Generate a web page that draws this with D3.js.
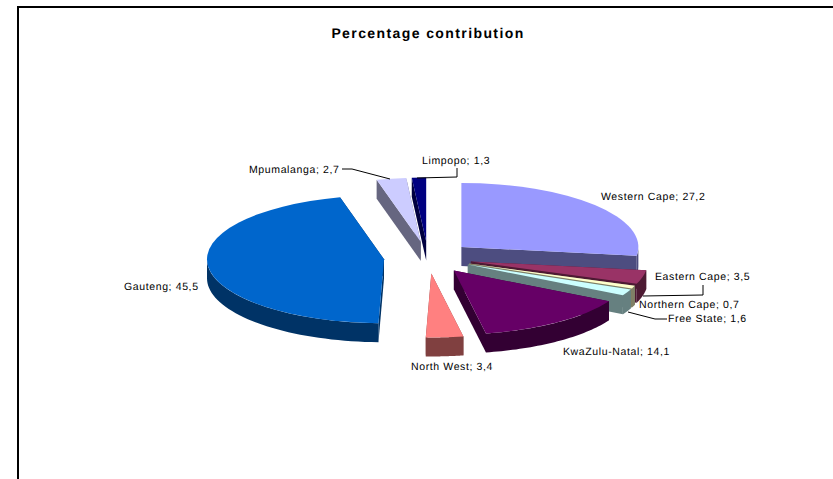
<!DOCTYPE html>
<html><head><meta charset="utf-8">
<script src="https://d3js.org/d3.v7.min.js"></script>
<style>html,body{margin:0;padding:0;background:#fff;overflow:hidden}svg{display:block}text{text-rendering:geometricPrecision}</style>
</head><body><svg width="833" height="479"></svg>
<script>
const categories = ["Western Cape","Eastern Cape","Northern Cape","Free State","KwaZulu-Natal","North West","Gauteng","Mpumalanga","Limpopo"];
const values = [27.2,3.5,0.7,1.6,14.1,3.4,45.5,2.7,1.3];
const valueLabels = ["27,2","3,5","0,7","1,6","14,1","3,4","45,5","2,7","1,3"];
const topColors = ["#9999FF","#993366","#FFFFCC","#CCFFFF","#660066","#FF8080","#0066CC","#CCCCFF","#000080"];
const sideColors = ["#4D4D80","#4D1A33","#808066","#668080","#330033","#804040","#003366","#666680","#000040"];
const drawOrder = [8,7,6,0,1,2,3,4,5];
const labelAt = [[601,196],[655,276],[639,304],[668,318],[563,351],[411,366],[124,286],[249,169],[422,160]];
const leaders = [
  [[703,285],[703,295],[643,296]],
  [[667,319],[655,319],[628,312]],
  [[342,169],[352,169],[390,179]],
  [[457,168],[457,177],[417,178]]
];

const cx=428, cy=257.5, rx=177, ry=64, depth=19, explode=0.25;
const svg=d3.select("svg");
svg.append("path").attr("d","M18,479V7H833").attr("fill","none").attr("stroke","#000").attr("stroke-width",2);
svg.append("text").attr("x",428).attr("y",38).attr("text-anchor","middle")
  .attr("font-family","Liberation Sans").attr("font-weight","bold").attr("font-size",14)
  .attr("letter-spacing",1.4).text("Percentage contribution");

const slices=d3.pie().sort(null)(values);
const arc=d3.arc().innerRadius(0).outerRadius(rx);
const line=d3.line();
const pt=(a,t,z)=>[t*rx*Math.sin(a), -t*ry*Math.cos(a)+z];
drawOrder.forEach(i=>{
  const s=slices[i], mid=(s.startAngle+s.endAngle)/2;
  const ox=cx+explode*rx*Math.sin(mid), oy=cy-explode*ry*Math.cos(mid);
  const g=svg.append("g").attr("transform",`translate(${ox},${oy})`);
  const wall=a=>[pt(a,0,0),pt(a,1,0),pt(a,1,depth),pt(a,0,depth)];
  g.append("path").attr("d",line(wall(s.startAngle))+"Z").attr("fill",sideColors[i]);
  g.append("path").attr("d",line(wall(s.endAngle))+"Z").attr("fill",sideColors[i]);
  const a0=Math.max(s.startAngle,Math.PI/2), a1=Math.min(s.endAngle,Math.PI*1.5);
  if(a1>a0){
    const as=d3.range(0,41).map(k=>a0+(a1-a0)*k/40);
    const outer=as.map(a=>pt(a,1,0)).concat(as.slice().reverse().map(a=>pt(a,1,depth)));
    g.append("path").attr("d",line(outer)+"Z").attr("fill",sideColors[i]);
  }
  g.append("path").attr("d",arc(s)).attr("transform",`scale(1,${ry/rx})`).attr("fill",topColors[i]);
});
leaders.forEach(l=>svg.append("path").attr("d",line(l)).attr("fill","none").attr("stroke","#000").attr("stroke-width",1));
categories.forEach((c,i)=>{
  svg.append("text").attr("x",labelAt[i][0]).attr("y",labelAt[i][1]+3.5)
    .attr("font-family","Liberation Sans").attr("font-size",10.5).attr("letter-spacing",0.62)
    .attr("fill","#000").text(`${c}; ${valueLabels[i]}`);
});
</script></body></html>
